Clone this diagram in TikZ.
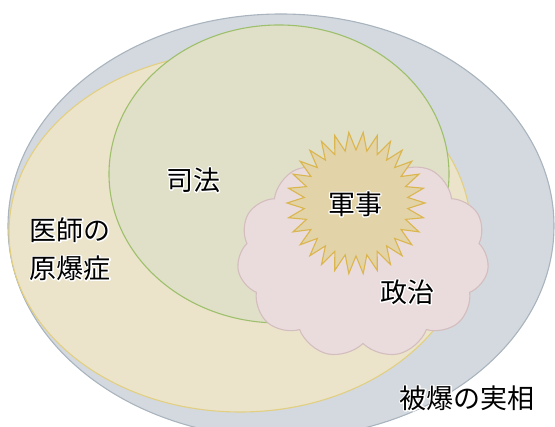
\documentclass[tikz,border=0pt]{standalone}
\usepackage{fontspec}
\setmainfont{Noto Sans CJK JP}
\usetikzlibrary{shapes.symbols,shapes.geometric}
\definecolor{grayfill}{HTML}{D3D9DE}
\definecolor{graydraw}{HTML}{A9B4BE}
\definecolor{yelfill}{HTML}{EBE4CA}
\definecolor{yeldraw}{HTML}{E2CF82}
\definecolor{grnfill}{HTML}{E0DFC8}
\definecolor{grndraw}{HTML}{9EC06C}
\definecolor{cldfill}{HTML}{EADCDD}
\definecolor{clddraw}{HTML}{D4BDBE}
\definecolor{starfill}{HTML}{E2D3A8}
\definecolor{stardraw}{HTML}{DBB64E}
\newcommand{\halo}[1]{\leavevmode\rlap{\special{pdf:code q 1 Tr 2.6 w 1 j 1 1 1 RG}#1\special{pdf:code Q}}#1}
\begin{document}
\begin{tikzpicture}[x=1pt,y=-1pt,
  lbl/.style={font=\fontsize{27}{38}\selectfont,align=center,inner sep=0,text=black},
  shapeline/.style={line width=1.1pt}]
\useasboundingbox (0,0) rectangle (555,427);
\begin{scope}
\clip (0,0) rectangle (555,427);
\fill[grayfill,draw=graydraw,shapeline] (281,226) ellipse [x radius=273, y radius=212];
\end{scope}
\fill[yelfill,draw=yeldraw,shapeline] (240,232) ellipse [x radius=231, y radius=180];
\fill[grnfill,draw=grndraw,shapeline] (279,174) ellipse [x radius=170, y radius=149];
\node[cloud,cloud puffs=11,cloud puff arc=115,aspect=1.25,minimum width=252pt,minimum height=204pt,inner sep=0,
  fill=cldfill,draw=clddraw,shapeline] (cloud) at (363,256) {};
\fill[starfill,draw=stardraw,shapeline]
  plot[samples=61,domain=0:60,variable=\i] ({356+(mod(\i,2)==0?69:52)*cos(\i*6)},{203+(mod(\i,2)==0?71:53)*sin(\i*6)}) -- cycle;
\node[lbl] (shiho) at (193,180) {\halo{司法}};
\node[lbl] (gunji) at (355,204) {\halo{軍事}};
\node[lbl] (ishi) at (70,249) {\halo{医師の}\\\halo{原爆症}};
\node[lbl] (seiji) at (407,292) {\halo{政治}};
\node[lbl] (hibaku) at (467,398) {\halo{被爆の実相}};
\end{tikzpicture}
\end{document}
